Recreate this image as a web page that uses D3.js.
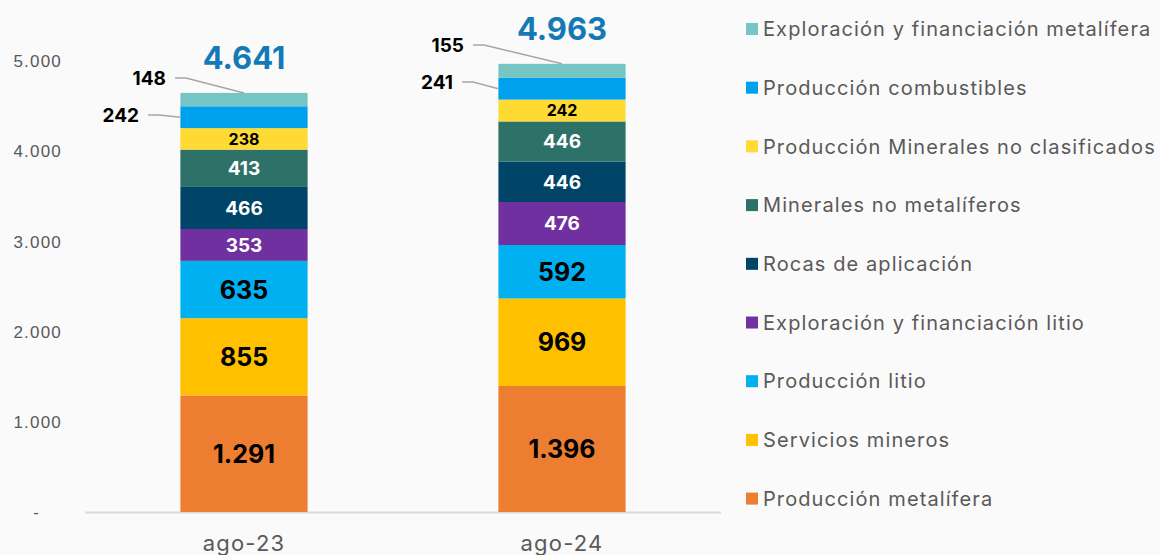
<!DOCTYPE html>
<html>
<head>
<meta charset="utf-8">
<script src="https://cdn.jsdelivr.net/npm/d3@7"></script>
<style>
  body { margin: 0; background: #fafafa; }
  svg { display: block; font-family: Inter, "Open Sans", sans-serif; }
</style>
</head>
<body>
<div id="chart"></div>
<script>
// categories (x axis)
const periods = ["ago-23", "ago-24"]

// series, bottom to top of the stack
const seriesNames = [
    "Producción metalífera",
    "Servicios mineros",
    "Producción litio",
    "Exploración y financiación litio",
    "Rocas de aplicación",
    "Minerales no metalíferos",
    "Producción Minerales no clasificados",
    "Producción combustibles",
    "Exploración y financiación metalífera"
]
const valuesAgo23 = [1291, 855, 635, 353, 466, 413, 238, 242, 148]
const valuesAgo24 = [1396, 969, 592, 476, 446, 446, 242, 241, 155]
const yTicks = [0, 1000, 2000, 3000, 4000, 5000]

const colors = ["#ED7D31", "#FFC000", "#00B0F0", "#7030A0", "#004467",
                "#2E7169", "#FFDA32", "#00A1EC", "#74C5C3"]
// text colour inside each segment
const labelColors = ["#000", "#000", "#000", "#fff", "#fff", "#fff", "#000", "#000", "#000"]
const labelSizes = [25, 25, 25, 19, 19, 19, 16, 19, 19]

const width = 1160, height = 555
const baseY = 512

const fmt = v => v === 0 ? "-" : d3.format(",")(v).replace(/,/g, ".")

// build rows for d3.stack
const rows = periods.map((p, i) => {
    const vals = i === 0 ? valuesAgo23 : valuesAgo24
    const row = { period: p }
    seriesNames.forEach((s, j) => row[s] = vals[j])
    return row
})
const stacked = d3.stack().keys(seriesNames)(rows)

const svg = d3.select("#chart").append("svg")
    .attr("width", width)
    .attr("height", height)

const x = d3.scaleBand()
    .domain(periods)
    .range([85, 721])
    .paddingInner(0.6)
    .paddingOuter(0.3)

const y = d3.scaleLinear()
    .domain([0, 5000])
    .range([baseY, baseY - 451.5])

// y axis labels only
const yAxis = svg.append("g")
    .attr("transform", "translate(62,0)")
    .call(d3.axisLeft(y).tickValues(yTicks).tickFormat(fmt).tickSize(0).tickPadding(0))
yAxis.select(".domain").remove()
yAxis.selectAll("text")
    .attr("fill", "#595959")
    .style("font-size", "17px")
    .style("letter-spacing", "1.2px")
    .attr("dy", "0.35em")
// the zero shows as a dash further left
yAxis.selectAll(".tick").filter(d => d === 0).select("text")
    .attr("x", -22)

// baseline
svg.append("line")
    .attr("x1", 85).attr("x2", 721)
    .attr("y1", baseY + 0.5).attr("y2", baseY + 0.5)
    .attr("stroke", "#d9d9d9")
    .attr("stroke-width", 2)

// x category labels
svg.append("g").selectAll("text")
    .data(periods)
    .enter().append("text")
    .attr("x", d => x(d) + x.bandwidth() / 2)
    .attr("y", 551)
    .attr("text-anchor", "middle")
    .attr("fill", "#595959")
    .style("font-size", "22px")
    .style("letter-spacing", "1.2px")
    .text(d => d)

// bars
const layers = svg.append("g").selectAll("g")
    .data(stacked)
    .enter().append("g")
    .attr("fill", (d, i) => colors[i])

layers.selectAll("rect")
    .data(d => d)
    .enter().append("rect")
    .attr("x", d => x(d.data.period))
    .attr("y", d => y(d[1]))
    .attr("width", x.bandwidth())
    .attr("height", d => y(d[0]) - y(d[1]))

// labels inside segments (top two series are labelled outside)
stacked.forEach((layer, i) => {
    if (i >= 7) return
    svg.append("g").selectAll("text")
        .data(layer)
        .enter().append("text")
        .attr("x", d => x(d.data.period) + x.bandwidth() / 2)
        .attr("y", d => (y(d[0]) + y(d[1])) / 2)
        .attr("dy", "0.36em")
        .attr("text-anchor", "middle")
        .attr("fill", labelColors[i])
        .style("font-size", labelSizes[i] + "px")
        .style("font-weight", 700)
        .text(d => fmt(d[1] - d[0]))
})

// outside labels with leader lines
// [series index, period index, label x (right end), label y]
const callouts = [
    [8, 0, 166, 78],
    [7, 0, 139, 115],
    [8, 1, 464, 45],
    [7, 1, 453, 82]
]
callouts.forEach(([si, pi, lx, ly]) => {
    const d = stacked[si][pi]
    const bx = x(d.data.period)
    let tx, ty
    if (si === 8) {
        tx = bx + x.bandwidth() / 2
        ty = y(d[1])
    } else {
        tx = bx
        ty = (y(d[0]) + y(d[1])) / 2
    }
    svg.append("path")
        .attr("d", `M${lx + 9},${ly} L${lx + 20},${ly} L${tx},${ty}`)
        .attr("fill", "none")
        .attr("stroke", "#a6a6a6")
        .attr("stroke-width", 1.5)
    svg.append("text")
        .attr("x", lx)
        .attr("y", ly)
        .attr("dy", "0.36em")
        .attr("text-anchor", "end")
        .style("font-size", "19px")
        .style("font-weight", 700)
        .attr("fill", "#000")
        .text(fmt(d[1] - d[0]))
})

// totals
const totals = rows.map(r => d3.sum(seriesNames, s => r[s]))
svg.append("g").selectAll("text")
    .data(periods)
    .enter().append("text")
    .attr("x", d => x(d) + x.bandwidth() / 2)
    .attr("y", (d, i) => y(totals[i]) - 24)
    .attr("text-anchor", "middle")
    .attr("fill", "#1479B5")
    .style("font-size", "31px")
    .style("font-weight", 700)
    .text((d, i) => fmt(totals[i]))

// legend, top series first
const legendNames = seriesNames.slice().reverse()
const legend = svg.append("g").selectAll("g")
    .data(legendNames)
    .enter().append("g")
    .attr("transform", (d, i) => `translate(746,${29 + i * 58.7})`)

legend.append("rect")
    .attr("x", 0).attr("y", -6)
    .attr("width", 12).attr("height", 12)
    .attr("fill", d => colors[seriesNames.indexOf(d)])

legend.append("text")
    .attr("x", 17)
    .attr("y", 0)
    .attr("dy", "0.36em")
    .attr("fill", "#595959")
    .style("font-size", "20px")
    .style("letter-spacing", "1.1px")
    .text(d => d)
</script>
</body>
</html>
